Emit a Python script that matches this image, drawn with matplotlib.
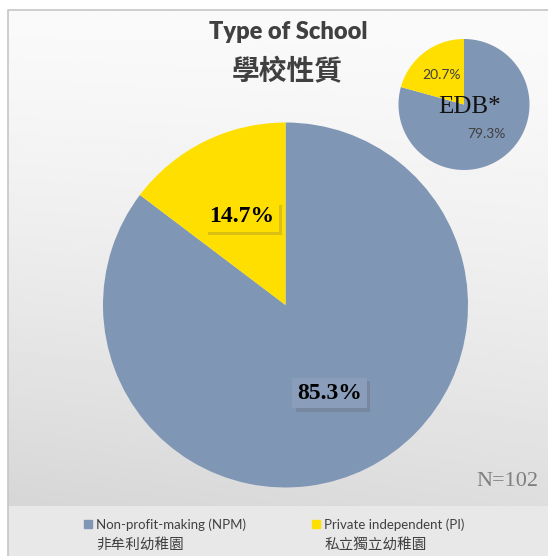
import numpy as np
import matplotlib.pyplot as plt
from matplotlib.patches import Rectangle
from matplotlib.lines import Line2D
from matplotlib.font_manager import FontProperties
import matplotlib.patheffects as pe

# data
school_labels = ["Non-profit-making (NPM)", "Private independent (PI)"]
school_labels_zh = ["非牟利幼稚園", "私立獨立幼稚園"]
survey_pct = [85.3, 14.7]
edb_pct = [79.3, 20.7]
n_total = 102

blue = "#8096b5"
yellow = "#ffdf00"
colors = [blue, yellow]

W, H = 548, 556
fig = plt.figure(figsize=(W / 100, H / 100), dpi=100)
fig.patch.set_facecolor("white")

# background panel (slide look)
bg = fig.add_axes([0, 0, 1, 1])
bg.set_xlim(0, W)
bg.set_ylim(H, 0)
bg.axis("off")
yy, xx = np.mgrid[0:1:200j, 0:1:200j]
shade = 0.98 - 0.11 * yy ** 1.4 - 0.03 * (1 - xx) * yy
bg.imshow(shade, cmap="gray", vmin=0, vmax=1, extent=(8, W, 506, 10),
          aspect="auto", interpolation="bilinear", zorder=0)
bg.add_patch(Rectangle((8, 506), W - 8, 50, facecolor="#e8e8e8",
                       edgecolor="none", zorder=1))
bg.plot([8, 8, W], [H, 10, 10], color="#c6c6c6", lw=1.2, zorder=2)

# main pie
ax = fig.add_axes([103 / W, (H - 487.5) / H, 365 / W, 365 / H])
wedges, _, autotexts = ax.pie(survey_pct, colors=colors, startangle=90,
                              counterclock=False, autopct="%.1f%%",
                              pctdistance=0.54,
                              wedgeprops=dict(linewidth=0))
ax.set_xlim(-1, 1)
ax.set_ylim(-1, 1)
for t, c in zip(autotexts, ["#8a9dbb", yellow]):
    t.set_fontfamily("Liberation Serif")
    t.set_fontweight("bold")
    t.set_fontsize(17)
    t.set_color("black")
    t.set_bbox(dict(boxstyle="square,pad=0.2", facecolor=c, edgecolor="none"))
    t.get_bbox_patch().set_path_effects(
        [pe.SimplePatchShadow(offset=(2.5, -2.5), shadow_rgbFace="#555555",
                              alpha=0.22), pe.Normal()])

# small EDB pie
ax2 = fig.add_axes([398.5 / W, (H - 170) / H, 131 / W, 131 / H])
_, _, autotexts2 = ax2.pie(edb_pct, colors=colors, startangle=90,
                           counterclock=False, autopct="%.1f%%",
                           pctdistance=0.57,
                           wedgeprops=dict(linewidth=0))
ax2.set_xlim(-1, 1)
ax2.set_ylim(-1, 1)
for t in autotexts2:
    t.set_fontfamily("Lato")
    t.set_fontsize(10)
    t.set_color("#404040")
ax2.text(0.08, -0.04, "EDB*", ha="center", va="center", fontsize=18,
         family="Liberation Serif", color="#111111")

# titles
fig.text(288 / W, 1 - 32 / H, "Type of School", ha="center", va="center",
         fontsize=17, fontweight="heavy", family="Lato", color="#404040")
fig.text(287.5 / W, 1 - 72 / H, "學校性質", ha="center", va="center",
         fontsize=20, fontweight="heavy", family="Noto Sans CJK TC",
         color="#404040")
fig.text(538 / W, 1 - 482 / H, "N=%d" % n_total, ha="right", va="center",
         fontsize=16, family="Liberation Serif", color="#7f7f7f")

# legend
handles = []
labels = []
for lab, lab_zh, c in zip(school_labels, school_labels_zh, colors):
    handles.append(Line2D([], [], marker="s", markersize=6, color=c,
                          linestyle="none"))
    labels.append(lab)
    handles.append(Line2D([], [], marker="s", markersize=6, color="none",
                          linestyle="none"))
    labels.append(lab_zh)
leg_font = FontProperties(family=["Lato", "Noto Sans CJK TC"], size=9)
leg = fig.legend(handles, labels, ncol=2, loc="upper left",
                 bbox_to_anchor=(77 / W, 1 - 512 / H), frameon=False,
                 prop=leg_font, handlelength=0.7, handletextpad=0.3,
                 columnspacing=5.3, labelspacing=0.55, borderpad=0)
for i, t in enumerate(leg.get_texts()):
    t.set_color("#404040")
    t.set_fontsize(10.5 if i % 2 == 1 else 9.5)

fig.savefig("out.png", dpi=100)
